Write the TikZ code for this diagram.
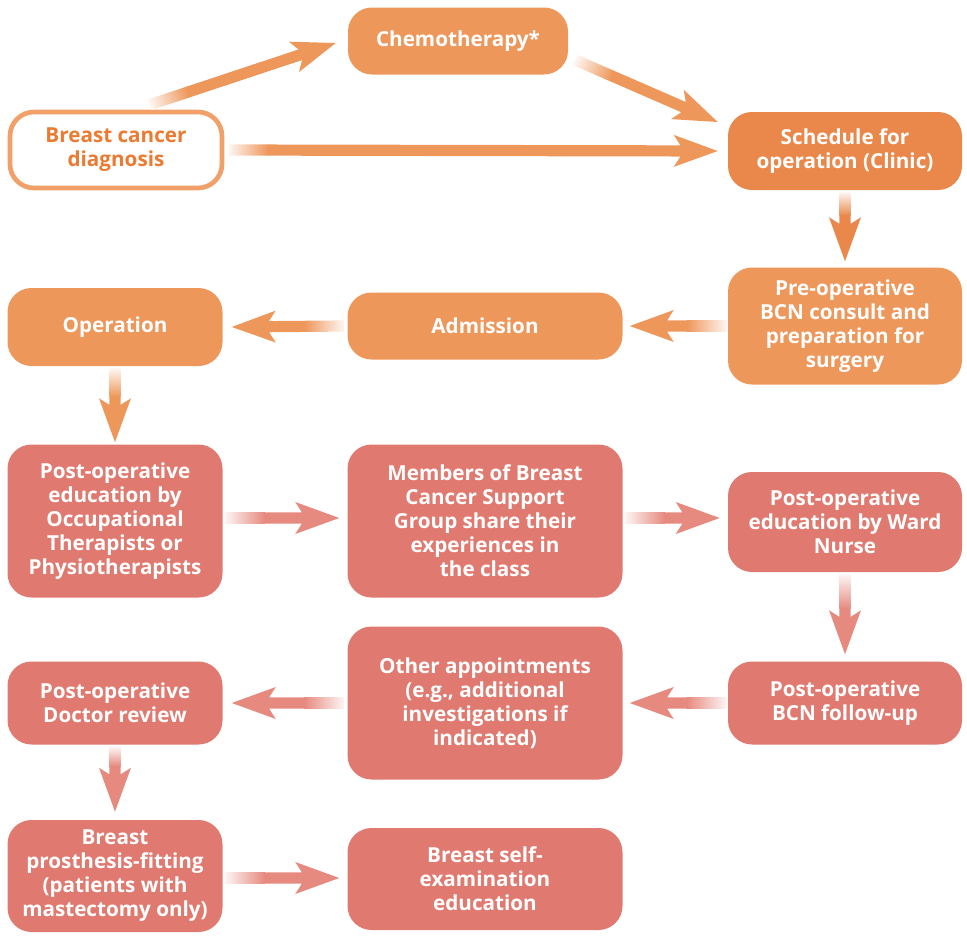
\documentclass[tikz,border=0pt]{standalone}
\usepackage{fontspec}
\setmainfont{Open Sans}
\usetikzlibrary{calc}
\definecolor{orA}{HTML}{EE975B}
\definecolor{orB}{HTML}{E9884A}
\definecolor{orT}{HTML}{EC7A30}
\definecolor{orL}{HTML}{F0A068}
\definecolor{sal}{HTML}{E07A70}
\definecolor{salA}{HTML}{E68A80}
\newcommand\fatarr[3]{%
 \path (#1); \pgfgetlastxy{\xa}{\ya}%
 \path (#2); \pgfgetlastxy{\xb}{\yb}%
 \pgfmathsetmacro\ang{atan2(\yb-\ya,\xb-\xa)}%
 \pgfmathsetmacro\len{veclen(\xb-\xa,\yb-\ya)}%
 \pgfmathsetmacro\gl{min(30,\len-34)}%
 \begin{scope}[transform canvas={shift={(\xa,\ya)},rotate=\ang}]
  \shade[left color=#3!8, right color=#3] (0pt,-4.2pt) rectangle (\gl pt,4.2pt);
  \fill[#3] (\gl pt-0.4pt,-4.2pt) -- (\len pt-28pt,-4.2pt) -- (\len pt-33pt,-12pt) -- (\len pt,0pt)
   -- (\len pt-33pt,12pt) -- (\len pt-28pt,4.2pt) -- (\gl pt-0.4pt,4.2pt) -- cycle;
 \end{scope}}
\tikzset{
 box/.style={rounded corners=18pt, align=center, text=white, font=\fontsize{15.5}{18}\selectfont\bfseries, inner sep=0pt},
 sz/.style 2 args={minimum width=#1*0.75pt, minimum height=#2*0.75pt},
}
\begin{document}
\begin{tikzpicture}[x=0.75pt,y=-0.75pt]
\useasboundingbox (0,0) rectangle (967,935);
% top row
\node[box, sz={220}{67}, fill=orA] (chemo) at (458,41) {Chemotherapy*};
\node[box, sz={212}{76}, fill=white, draw=orL, line width=3.5pt, text=orT] (diag) at (116,150) {Breast cancer\\diagnosis};
\node[box, sz={234}{78}, fill=orB] (sched) at (845,151) {Schedule for\\operation (Clinic)};
% second row
\node[box, sz={234}{117}, fill=orA] (preop) at (845,326) {Pre-operative\\BCN consult and\\preparation for\\surgery};
\node[box, sz={275}{67}, fill=orA] (adm) at (485,326) {Admission};
\node[box, sz={215}{78}, fill=orA] (oper) at (115,327) {Operation};
% third row
\node[box, sz={215}{153}, fill=sal] (ot) at (115,521) {Post-operative\\education by\\Occupational\\Therapists or\\Physiotherapists};
\node[box, sz={275}{153}, fill=sal] (memb) at (485,521) {Members of Breast\\Cancer Support\\Group share their\\experiences in\\the class};
\node[box, sz={234}{100}, fill=sal] (ward) at (845,522) {Post-operative\\education by Ward\\Nurse};
% fourth row
\node[box, sz={234}{83}, fill=sal] (bcnf) at (845,703) {Post-operative\\BCN follow-up};
\node[box, sz={275}{153}, fill=sal] (other) at (485,703) {Other appointments\\(e.g., additional\\investigations if\\indicated)};
\node[box, sz={215}{83}, fill=sal] (doc) at (115,703) {Post-operative\\Doctor review};
% fifth row
\node[box, sz={215}{112}, fill=sal] (pros) at (115,876) {Breast\\prosthesis-fitting\\(patients with\\mastectomy only)};
\node[box, sz={275}{102}, fill=sal] (self) at (485,879) {Breast self-\\examination\\education};
% arrows
\fatarr{$(diag.north)+(34,-5)$}{$(chemo.west)+(-12,2)$}{orA}
\fatarr{$(chemo.east)+(7,19)$}{$(sched.west)+(-10,-29)$}{orA}
\fatarr{$(diag.east)+(4,0)$}{$(sched.west)+(-10,0)$}{orA}
\fatarr{$(sched.south)+(0,2)$}{$(preop.north)+(0,-6)$}{orB}
\fatarr{$(preop.west)+(-1,0)$}{$(adm.east)+(7,0)$}{orA}
\fatarr{$(adm.west)+(-3,0)$}{$(oper.east)+(9,0)$}{orA}
\fatarr{$(oper.south)+(0,2)$}{$(ot.north)+(0,-2)$}{orA}
\fatarr{$(ot.east)+(2,-3)$}{$(memb.west)+(-8,-3)$}{salA}
\fatarr{$(memb.east)+(2,-3)$}{$(ward.west)+(-8,-4)$}{salA}
\fatarr{$(ward.south)+(0,2)$}{$(bcnf.north)+(0,-7)$}{salA}
\fatarr{$(bcnf.west)+(-1,0)$}{$(other.east)+(7,0)$}{salA}
\fatarr{$(other.west)+(-3,0)$}{$(doc.east)+(9,0)$}{salA}
\fatarr{$(doc.south)+(0,2)$}{$(pros.north)+(0,-8)$}{salA}
\fatarr{$(pros.east)+(2,2)$}{$(self.west)+(-8,-1)$}{salA}
\end{tikzpicture}
\end{document}
